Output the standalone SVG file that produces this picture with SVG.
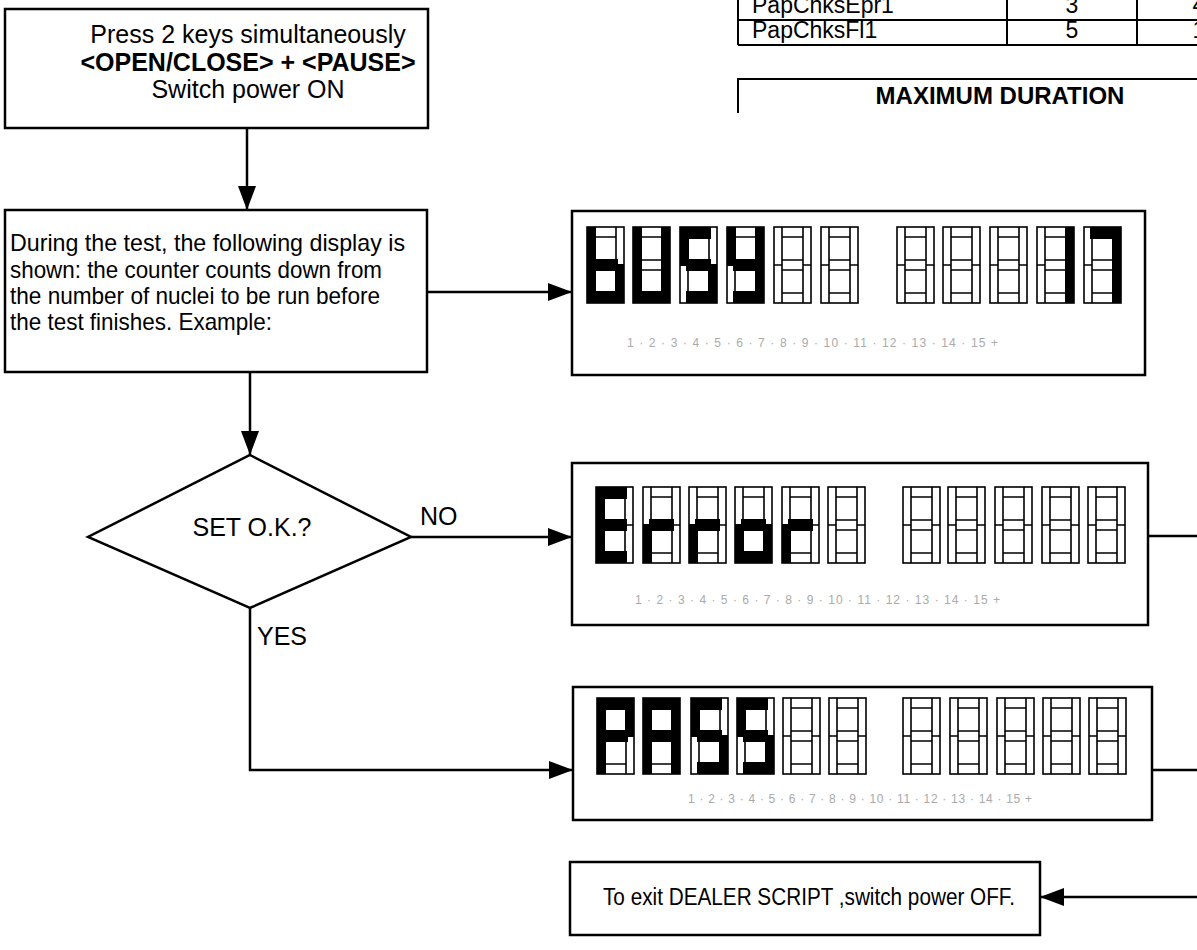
<svg xmlns="http://www.w3.org/2000/svg" xmlns:xlink="http://www.w3.org/1999/xlink" width="1197" height="950" viewBox="0 0 1197 950">
<style>
.box{fill:#fff;stroke:#000;stroke-width:2.5}
.ln{fill:none;stroke:#000;stroke-width:2.5}
.t{font-family:"Liberation Sans",Arial,Helvetica,sans-serif;fill:#000}
.b{font-weight:bold}
.seg rect,.seg path{fill:#fff;stroke:#000;stroke-width:1.6}
.seg path{fill:none}
.lit{fill:#000}
.num{font-family:"Liberation Sans",Arial,sans-serif;font-size:12px;fill:#aaa}
.tl{fill:none;stroke:#000;stroke-width:2}
</style>
<defs>
<marker id="ah" markerUnits="userSpaceOnUse" markerWidth="24" markerHeight="18" viewBox="0 0 24 18" refX="24" refY="9" orient="auto">
<path d="M0,0 L24,9 L0,18 Z" fill="#000"/>
</marker>
<g id="d" class="seg">
<rect x="0" y="0" width="37" height="76"/>
<path d="M8,0V76M29,0V76M0,38H8M29,38H37M8,10H29M8,33H29M8,43H29M8,66H29"/>
</g>
<rect id="T" class="lit" x="6" y="0" width="25" height="12"/>
<rect id="M" class="lit" x="6" y="32" width="25" height="12"/>
<rect id="B" class="lit" x="6" y="64" width="25" height="12"/>
<rect id="UL" class="lit" x="0" y="0" width="9" height="39"/>
<rect id="LL" class="lit" x="0" y="37" width="9" height="39"/>
<rect id="UR" class="lit" x="28" y="0" width="9" height="39"/>
<rect id="LR" class="lit" x="28" y="37" width="9" height="39"/>
</defs>
<rect width="1197" height="950" fill="#fff"/>

<g id="table">
<path class="tl" d="M738,0V45M1007,0V45M1137,0V45M738,20H1197M738,45H1197"/>
<text class="t" x="752" y="13" font-size="23">PapChksEpr1</text>
<text class="t" x="1072" y="13" font-size="23" text-anchor="middle">3</text>
<text class="t" x="1199" y="13" font-size="23" text-anchor="middle">4</text>
<text class="t" x="752" y="38" font-size="23">PapChksFl1</text>
<text class="t" x="1072" y="38" font-size="23" text-anchor="middle">5</text>
<text class="t" x="1199" y="38" font-size="23" text-anchor="middle">1</text>
<path class="tl" d="M738,113V79H1197"/>
<text class="t b" x="1000" y="104" font-size="24" text-anchor="middle">MAXIMUM DURATION</text>
</g>

<g id="connectors">
<path class="ln" d="M247,128V210" marker-end="url(#ah)"/>
<path class="ln" d="M427,292H572" marker-end="url(#ah)"/>
<path class="ln" d="M250,372V455" marker-end="url(#ah)"/>
<path class="ln" d="M411,537H572" marker-end="url(#ah)"/>
<path class="ln" d="M250,608V770H573" marker-end="url(#ah)"/>
<path class="ln" d="M1148,536H1197"/>
<path class="ln" d="M1152,770H1197"/>
<path class="ln" d="M1197,897H1040" marker-end="url(#ah)"/>
</g>

<g id="start">
<rect class="box" x="5" y="9" width="423" height="119"/>
<text class="t" x="248" y="43" font-size="25" text-anchor="middle">Press 2 keys simultaneously</text>
<text class="t b" x="248" y="71" font-size="25" text-anchor="middle">&lt;OPEN/CLOSE&gt; + &lt;PAUSE&gt;</text>
<text class="t" x="248" y="98" font-size="25" text-anchor="middle">Switch power ON</text>
</g>

<g id="during">
<rect class="box" x="5" y="210" width="422" height="162"/>
<text class="t" x="10" y="251" font-size="24" textLength="395" lengthAdjust="spacingAndGlyphs">During the test, the following display  is</text>
<text class="t" x="10" y="278" font-size="24" textLength="372" lengthAdjust="spacingAndGlyphs">shown: the counter counts down from</text>
<text class="t" x="10" y="304" font-size="24" textLength="370" lengthAdjust="spacingAndGlyphs">the number of nuclei to be run before</text>
<text class="t" x="10" y="330" font-size="24" textLength="262" lengthAdjust="spacingAndGlyphs">the test finishes. Example:</text>
</g>

<g id="decision">
<polygon class="box" points="250,455 411,537 250,608 88,537"/>
<text class="t" x="252" y="536" font-size="25" text-anchor="middle">SET O.K.?</text>
<text class="t" x="420" y="525" font-size="25">NO</text>
<text class="t" x="257" y="645" font-size="25">YES</text>
</g>

<g id="display-busy">
<rect class="box" x="572" y="211" width="573" height="164"/>
<g transform="translate(587,227)"><use href="#d"/><use href="#UL"/><use href="#LL"/><use href="#M"/><use href="#B"/><use href="#LR"/></g>
<g transform="translate(633,227)"><use href="#d"/><use href="#UL"/><use href="#LL"/><use href="#UR"/><use href="#LR"/><use href="#B"/></g>
<g transform="translate(680,227)"><use href="#d"/><use href="#T"/><use href="#UL"/><use href="#M"/><use href="#LR"/><use href="#B"/></g>
<g transform="translate(727,227)"><use href="#d"/><use href="#UL"/><use href="#UR"/><use href="#M"/><use href="#LR"/><use href="#B"/></g>
<use href="#d" x="774" y="227"/>
<use href="#d" x="821" y="227"/>
<use href="#d" x="897" y="227"/>
<use href="#d" x="943" y="227"/>
<use href="#d" x="990" y="227"/>
<g transform="translate(1037,227)"><use href="#d"/><use href="#UR"/><use href="#LR"/></g>
<g transform="translate(1084,227)"><use href="#d"/><use href="#T"/><use href="#UR"/><use href="#LR"/></g>
<text class="num" x="627" y="347" textLength="371">1 · 2 · 3 · 4 · 5 · 6 · 7 · 8 · 9 · 10 · 11 · 12 · 13 · 14 · 15 +</text>
</g>

<g id="display-error">
<rect class="box" x="572" y="463" width="576" height="162"/>
<g transform="translate(596,487)"><use href="#d"/><use href="#T"/><use href="#UL"/><use href="#LL"/><use href="#M"/><use href="#B"/></g>
<g transform="translate(643,487)"><use href="#d"/><use href="#M"/><use href="#LL"/></g>
<g transform="translate(689,487)"><use href="#d"/><use href="#M"/><use href="#LL"/></g>
<g transform="translate(735,487)"><use href="#d"/><use href="#M"/><use href="#LL"/><use href="#LR"/><use href="#B"/></g>
<g transform="translate(782,487)"><use href="#d"/><use href="#M"/><use href="#LL"/></g>
<use href="#d" x="828" y="487"/>
<use href="#d" x="903" y="487"/>
<use href="#d" x="948" y="487"/>
<use href="#d" x="995" y="487"/>
<use href="#d" x="1042" y="487"/>
<use href="#d" x="1088" y="487"/>
<text class="num" x="635" y="604" textLength="365">1 · 2 · 3 · 4 · 5 · 6 · 7 · 8 · 9 · 10 · 11 · 12 · 13 · 14 · 15 +</text>
</g>

<g id="display-pass">
<rect class="box" x="573" y="687" width="579" height="133"/>
<g transform="translate(597,698)"><use href="#d"/><use href="#T"/><use href="#UL"/><use href="#UR"/><use href="#M"/><use href="#LL"/></g>
<g transform="translate(643,698)"><use href="#d"/><use href="#T"/><use href="#UL"/><use href="#UR"/><use href="#M"/><use href="#LL"/><use href="#LR"/></g>
<g transform="translate(691,698)"><use href="#d"/><use href="#T"/><use href="#UL"/><use href="#M"/><use href="#LR"/><use href="#B"/></g>
<g transform="translate(737,698)"><use href="#d"/><use href="#T"/><use href="#UL"/><use href="#M"/><use href="#LR"/><use href="#B"/></g>
<use href="#d" x="783" y="698"/>
<use href="#d" x="829" y="698"/>
<use href="#d" x="903" y="698"/>
<use href="#d" x="950" y="698"/>
<use href="#d" x="997" y="698"/>
<use href="#d" x="1043" y="698"/>
<use href="#d" x="1089" y="698"/>
<text class="num" x="688" y="803" font-size="13" textLength="344">1 · 2 · 3 · 4 · 5 · 6 · 7 · 8 · 9 · 10 · 11 · 12 · 13 · 14 · 15 +</text>
</g>

<g id="exit">
<rect class="box" x="570" y="862" width="470" height="73"/>
<text class="t" x="603" y="905" font-size="23" textLength="412" lengthAdjust="spacingAndGlyphs">To exit DEALER SCRIPT ,switch power OFF.</text>
</g>
</svg>
